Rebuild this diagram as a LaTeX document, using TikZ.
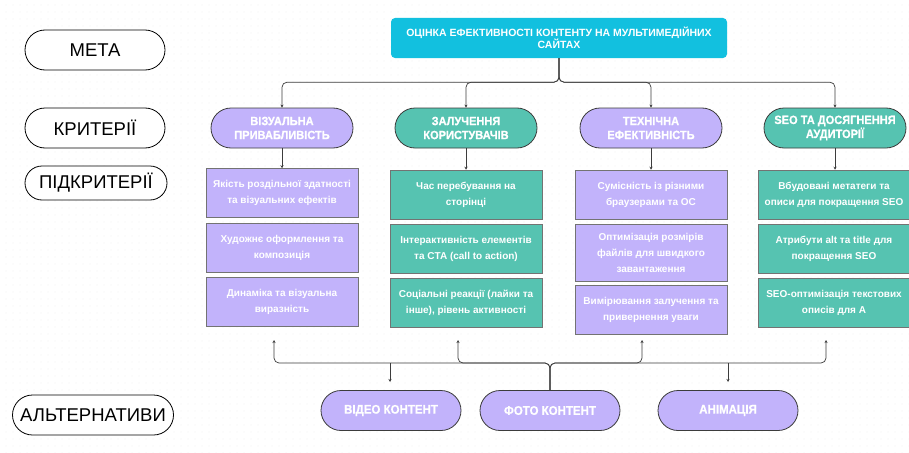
\documentclass[tikz,border=0pt]{standalone}
\usepackage{fontspec}
\setmainfont{Liberation Sans}
\newfontfamily\headfont[FakeStretch=0.92, BoldFeatures={FakeBold=0.8}]{Liberation Sans}
\newfontfamily\subfont{Liberation Sans}
\usetikzlibrary{arrows.meta,patterns.meta}

\definecolor{goalcyan}{HTML}{12C0DF}
\definecolor{lav}{HTML}{C2B3FB}
\definecolor{teal}{HTML}{56C3B1}
\definecolor{edge}{HTML}{3C3C3C}

\begin{document}
\begin{tikzpicture}[x=1pt, y=-1pt,
  level/.style={draw=black, line width=0.8pt, fill=white, rounded corners=20pt,
    minimum width=140pt, minimum height=40pt, inner sep=0pt, font=\fontsize{18.5}{20}\selectfont},
  goalbox/.style={fill=goalcyan, rounded corners=4pt, minimum width=336pt, minimum height=40pt,
    inner sep=0pt, align=center, text=white, font=\subfont\bfseries\fontsize{10.5}{12}\selectfont},
  crit/.style={draw=edge, line width=0.8pt, rounded corners=20pt, minimum width=142pt,
    minimum height=40pt, inner sep=0pt, align=center, text=white,
    font=\headfont\bfseries\fontsize{12}{14}\selectfont},
  sub/.style={draw=black!55, line width=0.5pt, minimum width=152pt, minimum height=49pt,
    inner sep=0pt, align=center, text=white, font=\subfont\bfseries\fontsize{10}{16}\selectfont},
  alt/.style={crit, fill=lav, minimum width=140pt, font=\headfont\bfseries\fontsize{12.5}{14}\selectfont},
  link/.style={draw=edge, line width=0.7pt, rounded corners=5pt, -{Stealth[length=3pt,width=3pt]}}]

\useasboundingbox (0,0) rectangle (909,452);
\fill[white] (0,0) rectangle (909,452);
\fill[pattern={Dots[radius=0.5pt,distance=6.5pt]}, pattern color=black!12] (0,0) rectangle (909,452);

% levels on the left
\node (meta)    [level] at (95,50)  {МЕТА};
\node (krit)    [level] at (95,128) {КРИТЕРІЇ};
\node (pidkrit) [level, minimum width=142pt, minimum height=34pt, rounded corners=17pt] at (96,183) {ПІДКРИТЕРІЇ};
\node (alter)   [level, minimum width=161pt] at (93,415) {АЛЬТЕРНАТИВИ};

% goal
\node (goal) [goalbox] at (559,38) {ОЦІНКА ЕФЕКТИВНОСТІ КОНТЕНТУ НА МУЛЬТИМЕДІЙНИХ\\САЙТАХ};

% criteria
\node (c1) [crit, fill=lav]  at (282,128) {ВІЗУАЛЬНА\\ПРИВАБЛИВІСТЬ};
\node (c2) [crit, fill=teal] at (466,128) {ЗАЛУЧЕННЯ\\КОРИСТУВАЧІВ};
\node (c3) [crit, fill=lav]  at (651,128) {ТЕХНІЧНА\\ЕФЕКТИВНІСТЬ};
\node (c4) [crit, fill=teal] at (835,128) {SEO ТА ДОСЯГНЕННЯ\\АУДИТОРІЇ};

% subcriteria
\node (s11) [sub, fill=lav] at (282,193)   {Якість роздільної здатності\\та візуальних ефектів};
\node (s12) [sub, fill=lav] at (282,248)   {Художнє оформлення та\\композиція};
\node (s13) [sub, fill=lav] at (282,302)   {Динаміка та візуальна\\виразність};
\node (s21) [sub, fill=teal] at (466,194.5) {Час перебування на\\сторінці};
\node (s22) [sub, fill=teal] at (466,248.5) {Інтерактивність елементів\\та CTA (call to action)};
\node (s23) [sub, fill=teal] at (466,302.5) {Соціальні реакції (лайки та\\інше), рівень активності};
\node (s31) [sub, fill=lav] at (651,194.5) {Сумісність із різними\\браузерами та ОС};
\node (s32) [sub, fill=lav, minimum height=57pt] at (651,252.5) {Оптимізація розмірів\\файлів для швидкого\\завантаження};
\node (s33) [sub, fill=lav] at (651,310)   {Вимірювання залучення та\\привернення уваги};
\node (s41) [sub, fill=teal] at (834,194.5) {Вбудовані метатеги та\\описи для покращення SEO};
\node (s42) [sub, fill=teal] at (834,248.5) {Атрибути alt та title для\\покращення SEO};
\node (s43) [sub, fill=teal] at (834,302.5) {SEO-оптимізація текстових\\описів для А};

% alternatives
\node (video) [alt] at (391,410.5) {ВІДЕО КОНТЕНТ};
\node (photo) [alt] at (550,410.5) {ФОТО КОНТЕНТ};
\node (anim)  [alt] at (728,410.5) {АНІМАЦІЯ};

% goal to criteria
\foreach \c in {c1,c2,c3,c4}
  \draw[link] (goal.south) -- ++(0,24) -| (\c.north);

% criteria to subcriteria
\foreach \c/\s in {c1/s11,c2/s21,c3/s31,c4/s41}
  \draw[link] (\c.south) -- (\c.south |- \s.north);

% alternatives up to subcriteria
\coordinate (bus) at (550,363);
\coordinate (u1) at (274,340);
\coordinate (u2) at (458,340);
\coordinate (u3) at (642,340);
\coordinate (u4) at (826,340);
\foreach \u in {u1,u2,u3,u4}
  \draw[link] (photo.north) -- (photo.north |- bus) -| (\u);

\coordinate (d1) at (390,382);
\coordinate (d2) at (728,382);
\draw[link] (d1 |- bus) -- (d1);
\draw[link] (d2 |- bus) -- (d2);

\end{tikzpicture}
\end{document}
